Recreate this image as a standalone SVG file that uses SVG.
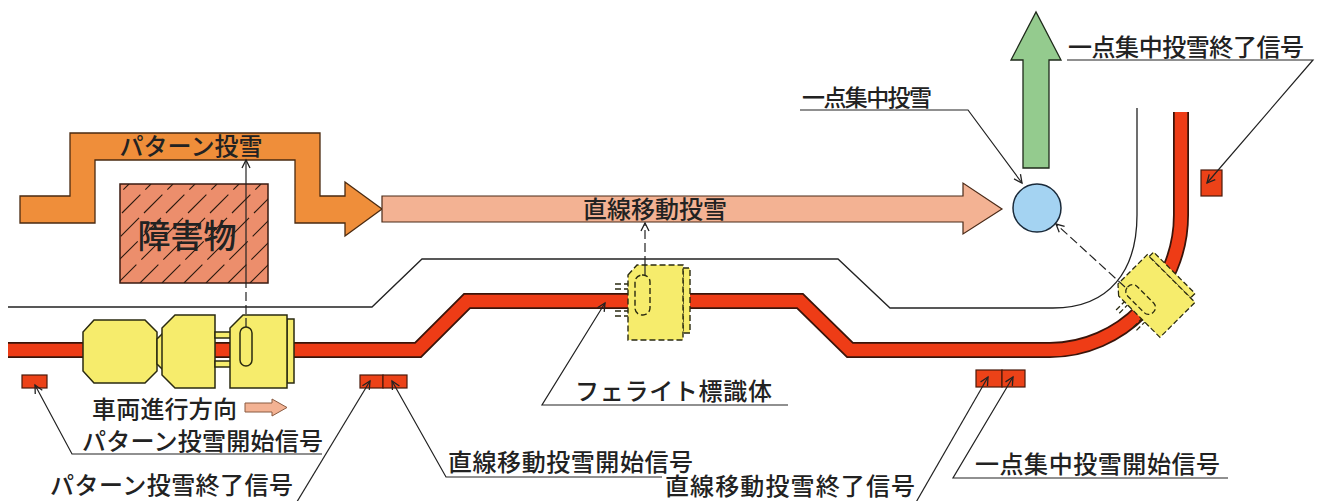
<svg xmlns="http://www.w3.org/2000/svg" width="1329" height="501" viewBox="0 0 1329 501">
  <style>
    text { font-family: "Noto Sans CJK JP", "Noto Sans", sans-serif; fill: #222; font-weight: 500; }
    .lbl { font-size: 24px; }
    .lead { fill: none; stroke: #222; stroke-width: 1.2; }
    .dash { fill: none; stroke: #222; stroke-width: 1.2; stroke-dasharray: 9 4; }
    .yel { fill: #F6EC6C; stroke: #2a2a10; stroke-width: 1.5; }
    .yeld { fill: #F6EC6C; stroke: #2a2a10; stroke-width: 1.4; stroke-dasharray: 6 3; }
    .dsh { fill: none; stroke: #2a2a10; stroke-width: 1.4; stroke-dasharray: 6 3; }
    .sig { fill: #EC4218; stroke: #4a1a0a; stroke-width: 1.2; }
  </style>
  <defs>
    <marker id="open" viewBox="-10 -6 12 12" markerWidth="12" markerHeight="12" refX="0" refY="0" orient="auto" markerUnits="userSpaceOnUse">
      <path d="M-8,-4 L0,0 L-8,4" fill="none" stroke="#222" stroke-width="1.3"/>
    </marker>
    <clipPath id="obsClip"><rect x="120" y="184" width="148" height="99"/></clipPath>
    <!-- ferrite marker body, centred on its own origin -->
    <g id="ferrite">
      <g class="ticks">
        <line x1="-40" y1="-18" x2="-27" y2="-18" class="dsh"/>
        <line x1="-40" y1="-13" x2="-27" y2="-13" class="dsh"/>
        <line x1="-40" y1="9" x2="-27" y2="9" class="dsh"/>
        <line x1="-40" y1="14" x2="-27" y2="14" class="dsh"/>
      </g>
      <rect x="28" y="-34" width="7" height="65" class="yeld"/>
      <polygon points="-27,-27 -18,-37 28,-37 28,38 -27,38" class="yeld"/>
      <rect x="-20" y="-27" width="15" height="40" rx="7" class="dsh"/>
    </g>
  </defs>

  <rect width="1329" height="501" fill="#ffffff"/>

  <!-- route guide line -->
  <g id="route-line">
    <path d="M8,307 L372,307 L422,259 L838,259 L890,308 L1053,308 C1110,308 1137,270 1137,215 L1137,108" fill="none" stroke="#222" stroke-width="1.3"/>
  </g>

  <!-- track -->
  <g id="track">
    <path d="M8,350 L418,350 L467,301 L800,301 L850,350 L1050,350 C1120,350 1181,290 1181,215 L1181,112" fill="none" stroke="#3a140a" stroke-width="16"/>
    <path d="M8,350 L418,350 L467,301 L800,301 L850,350 L1050,350 C1120,350 1181,290 1181,215 L1181,112" fill="none" stroke="#EE3C16" stroke-width="12.5"/>
  </g>

  <!-- pattern throwing path -->
  <g id="pattern-throw">
    <path d="M20,196 L70,196 L70,133 L320,133 L320,196 L345,196 L345,182 L382,209 L345,236 L345,223 L295,223 L295,160 L95,160 L95,223 L20,223 Z" fill="#EF8E3A" stroke="#4a2a10" stroke-width="1.3"/>
    <text x="191" y="155" class="lbl" text-anchor="middle">パターン投雪</text>
  </g>

  <!-- obstacle -->
  <g id="obstacle">
    <rect x="120" y="184" width="148" height="99" fill="#EC8E6C" stroke="#3a1a10" stroke-width="1.5"/>
    <g clip-path="url(#obsClip)" stroke="#2a1a10" stroke-width="1.1" stroke-dasharray="26 7">
      <line x1="30" y1="283" x2="129" y2="184"/>
      <line x1="52" y1="283" x2="151" y2="184"/>
      <line x1="74" y1="283" x2="173" y2="184"/>
      <line x1="96" y1="283" x2="195" y2="184"/>
      <line x1="118" y1="283" x2="217" y2="184"/>
      <line x1="140" y1="283" x2="239" y2="184"/>
      <line x1="162" y1="283" x2="261" y2="184"/>
      <line x1="184" y1="283" x2="283" y2="184"/>
      <line x1="206" y1="283" x2="305" y2="184"/>
      <line x1="228" y1="283" x2="327" y2="184"/>
      <line x1="250" y1="283" x2="349" y2="184"/>
    </g>
    <text x="187" y="248" font-size="33" text-anchor="middle">障害物</text>
  </g>

  <!-- linear moving throw -->
  <g id="linear-throw">
    <path d="M382,196 L963,196 L963,183 L1002,209 L963,234 L963,222 L382,222 Z" fill="#F3B293" stroke="#4a2a18" stroke-width="1.2"/>
    <text x="655" y="218" class="lbl" text-anchor="middle">直線移動投雪</text>
  </g>

  <!-- upward throw -->
  <g id="upward-throw">
    <path d="M1023,168 L1023,60 L1011,60 L1036,12 L1061,60 L1049,60 L1049,168 Z" fill="#94CB8E" stroke="#1e2a1a" stroke-width="1.3"/>
  </g>

  <!-- concentrated point -->
  <g id="point">
    <circle cx="1037" cy="208" r="24" fill="#A4D3F2" stroke="#1a2a3a" stroke-width="1.5"/>
  </g>

  <!-- vehicle -->
  <g id="vehicle">
    <polygon points="94,320 145,320 157,332 157,371 145,383 94,383 83,371 83,332" class="yel"/>
    <polygon points="157,339 163,333 163,370 157,364" class="yel"/>
    <polygon points="175,315 215,315 215,388 175,388 162,375 162,328" class="yel"/>
    <rect x="215" y="332" width="16" height="6" class="yel"/>
    <rect x="215" y="361" width="16" height="6" class="yel"/>
    <rect x="287" y="319" width="7" height="64" class="yel"/>
    <polygon points="243,315 287,315 287,388 230,388 230,328" class="yel"/>
    <rect x="240" y="327" width="12" height="39" rx="6" fill="none" stroke="#2a2a10" stroke-width="1.5"/>
  </g>

  <!-- direction of travel -->
  <g id="travel-direction">
    <text x="92" y="418" class="lbl" textLength="145">車両進行方向</text>
    <path d="M245,403 L272,403 L272,399 L287,407.5 L272,416 L272,412 L245,412 Z" fill="#F3B293" stroke="#8a5a40" stroke-width="1"/>
  </g>

  <!-- ferrite markers -->
  <g id="ferrite-straight">
    <use href="#ferrite" transform="translate(655,302)"/>
  </g>
  <g id="ferrite-curve">
    <use href="#ferrite" transform="translate(1153,296) rotate(-45) scale(0.9)"/>
  </g>

  <!-- signal plates -->
  <g id="signals">
    <rect x="22" y="375" width="25" height="13" class="sig"/>
    <rect x="360" y="375" width="23" height="13" class="sig"/>
    <rect x="383" y="375" width="24" height="13" class="sig"/>
    <rect x="976" y="370" width="26" height="17" class="sig"/>
    <rect x="1002" y="370" width="23" height="17" class="sig"/>
    <rect x="1201" y="170" width="21" height="26" class="sig"/>
  </g>

  <!-- connectors -->
  <g id="connectors">
    <line x1="246" y1="283" x2="246" y2="160" class="lead" marker-end="url(#open)"/>
    <line x1="246" y1="327" x2="246" y2="283" class="dash"/>
    <line x1="645" y1="275" x2="645" y2="265" class="lead"/>
    <line x1="645" y1="265" x2="645" y2="223" class="dash" marker-end="url(#open)"/>
    <line x1="1125" y1="287" x2="1056" y2="224" class="dash" marker-end="url(#open)"/>

    <polyline points="800,110 968,110 1022,183" class="lead" marker-end="url(#open)"/>
    <polyline points="1067,60 1313,60 1207,183" class="lead" marker-end="url(#open)"/>
    <polyline points="788,405 542,405 605,303" class="lead" marker-end="url(#open)"/>
    <polyline points="322,454 72,454 35,385" class="lead" marker-end="url(#open)"/>
    <line x1="292" y1="510" x2="370" y2="381" class="lead" marker-end="url(#open)"/>
    <polyline points="662,477 446,477 392,381" class="lead" marker-end="url(#open)"/>
    <line x1="911" y1="511" x2="988" y2="377" class="lead" marker-end="url(#open)"/>
    <polyline points="1228,478 953,478 1013,377" class="lead" marker-end="url(#open)"/>
  </g>

  <!-- labels -->
  <g id="labels">
    <text x="802" y="106" font-size="23" textLength="130">一点集中投雪</text>
    <text x="1068" y="56" class="lbl" textLength="236">一点集中投雪終了信号</text>
    <text x="575" y="400" class="lbl" textLength="197">フェライト標識体</text>
    <text x="82" y="450" class="lbl" textLength="241">パターン投雪開始信号</text>
    <text x="50" y="494" class="lbl" textLength="243">パターン投雪終了信号</text>
    <text x="448" y="471" class="lbl" textLength="245">直線移動投雪開始信号</text>
    <text x="665" y="495" class="lbl" textLength="250">直線移動投雪終了信号</text>
    <text x="975" y="473" class="lbl" textLength="245">一点集中投雪開始信号</text>
  </g>
</svg>
